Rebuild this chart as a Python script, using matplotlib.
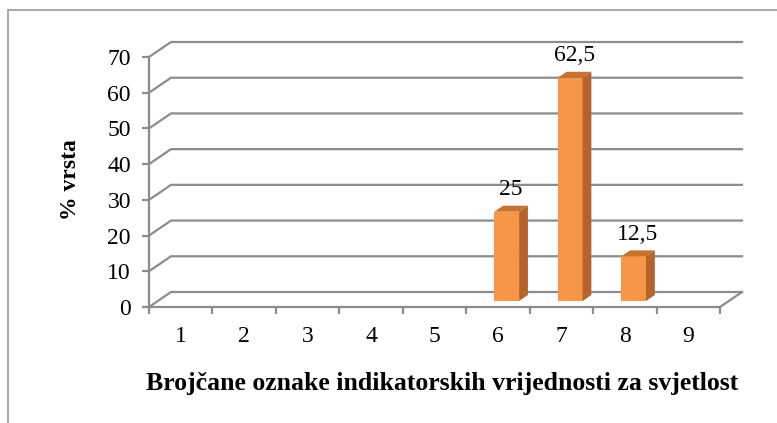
import matplotlib
matplotlib.use("Agg")
import matplotlib.pyplot as plt
from matplotlib.patches import Polygon, Rectangle

categories = ['1', '2', '3', '4', '5', '6', '7', '8', '9']
values = [0, 0, 0, 0, 0, 25, 62.5, 12.5, 0]
labels = ['', '', '', '', '', '25', '62,5', '12,5', '']
yticks = [0, 10, 20, 30, 40, 50, 60, 70]

FRONT = '#F79646'
SIDE = '#B4632A'
TOP = '#C8722F'
GRID = '#8C8C8C'

plt.rcParams['font.family'] = ['Liberation Serif', 'DejaVu Serif']

W, H = 777, 423
fig = plt.figure(figsize=(W / 100, H / 100), dpi=100)

# outer frame of the chart area
fig.patches.append(Rectangle((8 / W, -0.1), 1.2, 1.1 - 10 / H, transform=fig.transFigure,
                             fill=False, edgecolor='#9a9a9a', lw=1.2))

# axes placed so x=0..9 -> px 149..720, y=0..70 -> px 307..57
px_x = (720 - 149) / 9
px_y = (307 - 57) / 70
xmax, ymax = 9.5, 75
ax = fig.add_axes([149 / W, (H - 307) / H, xmax * px_x / W, ymax * px_y / H])
ax.set_xlim(0, xmax)
ax.set_ylim(0, ymax)

# depth of the fake 3d floor/walls
dx, dy = 22 / px_x, 15 / px_y
n = len(categories)

for v in yticks:
    ax.plot([0, dx, n + dx], [v, v + dy, v + dy], color=GRID, lw=1.6, clip_on=False,
            solid_joinstyle='miter')
ax.plot([n, n + dx], [0, dy], color=GRID, lw=1.6, clip_on=False)

# bars sit in the middle of the depth
f0, f1 = 0.4, 0.8
bw = 0.39
for i, (v, lab) in enumerate(zip(values, labels)):
    if v == 0:
        continue
    xl = i + 0.5 - bw / 2 + f0 * dx
    xr = xl + bw
    b = f0 * dy
    t = b + v
    ox, oy = (f1 - f0) * dx, (f1 - f0) * dy
    ax.bar(xl, v, width=bw, bottom=b, align='edge', color=FRONT, zorder=3)
    ax.add_patch(Polygon([(xr, b), (xr + ox, b + oy), (xr + ox, t + oy), (xr, t)],
                         closed=True, facecolor=SIDE, edgecolor='none', zorder=3))
    ax.add_patch(Polygon([(xl, t), (xl + ox, t + oy), (xr + ox, t + oy), (xr, t)],
                         closed=True, facecolor=TOP, edgecolor='none', zorder=3))
    ax.annotate(lab, (xl + bw / 2 + ox / 2, t + oy), xytext=(0, 4), textcoords='offset points',
                ha='center', va='bottom', fontsize=17, zorder=4)

for s in ['top', 'right']:
    ax.spines[s].set_visible(False)
ax.spines['left'].set_bounds(0, 70)
ax.spines['bottom'].set_bounds(0, n)
for s in ['left', 'bottom']:
    ax.spines[s].set_color(GRID)
    ax.spines[s].set_linewidth(1.6)

ax.set_yticks(yticks)
ax.set_yticklabels([str(v) for v in yticks], fontsize=17)
ax.set_xticks(range(n + 1))
ax.set_xticklabels([])
ax.set_xticks([i + 0.5 for i in range(n)], minor=True)
ax.set_xticklabels(categories, minor=True, fontsize=17)
ax.tick_params(axis='both', which='major', color=GRID, width=1.6, length=5)
ax.tick_params(axis='x', which='minor', length=0, pad=14)
ax.tick_params(axis='y', pad=8)

fig.text(442 / W, 1 - 383 / H, 'Brojčane oznake indikatorskih vrijednosti za svjetlost',
         ha='center', va='center', fontsize=18.5, fontweight='bold')
fig.text(70 / W, 1 - 180 / H, '% vrsta', ha='center', va='center', rotation=90,
         fontsize=17, fontweight='bold')

fig.savefig('out.png', dpi=100)
